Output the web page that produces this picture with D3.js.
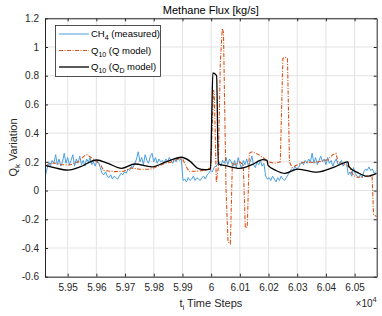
<!DOCTYPE html>
<html><head><meta charset="utf-8">
<script src="https://cdn.jsdelivr.net/npm/d3@7"></script>
<style>
html,body{margin:0;padding:0;background:#fff;}
svg{display:block;font-family:Arial,"Liberation Sans",Helvetica,sans-serif;}
</style></head>
<body><svg id="c" width="382" height="316"></svg>
<script>
// ---- data ----
const ch4Start = 59422, ch4Step = 6;
const ch4 = [0.10,0.15,0.20,0.17,
 0.21,0.19,0.25,0.18,0.22,0.17,0.20,0.26,0.19,0.23,0.18,0.21,0.25,0.17,0.22,0.19,0.24,0.18,0.21,0.17,0.22,0.20,0.23,0.18,0.20,0.17,0.21,0.19,0.16,
 0.12,0.11,0.13,0.10,0.09,0.11,0.08,0.10,0.09,0.08,0.10,0.12,0.11,0.13,
 0.12,0.15,0.14,0.17,0.16,0.19,
 0.22,0.27,0.20,0.23,0.18,0.25,0.21,0.19,0.24,0.26,0.20,0.23,0.19,0.22,0.20,
 0.21,0.19,0.22,0.20,0.23,0.21,0.19,0.22,0.20,0.23,0.21,0.22,
 0.07,0.08,0.06,0.09,0.07,0.08,0.10,0.07,0.09,0.08,0.07,0.09,0.10,0.08,0.11,
 0.12,0.14,0.13,0.16,0.17,
 0.18,0.20,0.17,0.21,0.19,0.23,0.18,0.22,0.20,
 0.17,0.21,0.16,0.23,0.19,0.15,0.21,0.18,0.22,0.17,0.20,0.24,0.18,0.16,0.20,0.18,0.21,0.17,0.19,
 0.10,0.08,0.09,0.07,0.10,0.08,0.06,0.09,0.07,0.10,0.08,0.07,0.09,0.11,
 0.13,0.15,0.14,0.17,0.15,0.16,0.18,
 0.20,0.18,0.21,0.19,0.22,0.20,0.26,
 0.19,0.23,0.18,0.21,0.24,0.20,0.22,0.18,0.23,0.19,0.21,0.17,0.20,0.22,0.18,0.19,0.21,0.17,0.20,0.19,
 0.11,0.13,0.10,0.16,0.12,0.10,0.09,0.11,0.09,
 0.13,0.15,0.14,0.165,0.14,0.15,
 0.12,0.13];

const qT = [59421,59441,59459,59480,59508,59536,59557,59568,59592,59615,59625,59661,59696,59721,59752,59787,59815,59839,59863,59891,59902,59912,59923,59950,59984,59999,
 60008,60011,60018,60025,60032,60039,60043,60052,60059,60067,60074,60086,60100,60112,60119,60126,60133,60142,60156,60170,60184,60198,60222,60241,
 60250,60257,60266,60273,60282,60295,60327,60362,60407,60424,60435,60442,60466,60480,60491,60505,60526,60543,60561,60566,60577];
const qV = [0.17,0.19,0.19,0.18,0.178,0.2,0.24,0.25,0.215,0.18,0.14,0.132,0.135,0.158,0.148,0.148,0.17,0.19,0.2,0.225,0.215,0.17,0.135,0.135,0.143,0.16,
 0.7,0.68,0.06,0.16,0.9,1.13,1.1,0.0,-0.36,-0.37,0.19,0.18,0.2,0.18,-0.26,-0.25,0.26,0.27,0.26,0.245,0.225,0.2,0.19,0.2,
 0.92,0.93,0.92,0.2,0.16,0.175,0.2,0.195,0.215,0.25,0.26,0.2,0.18,0.17,0.12,0.093,0.093,0.1,0.1,-0.17,-0.18];

const qdT = [59421,59456,59501,59543,59601,59640,59688,59734,59793,59843,59897,59926,59954,59978,59998,60002,60006,60019,60025,60048,60100,60142,60180,60195,60198,60226,60257,60302,60368,60431,60477,60480,60511,60543,60577];
const qdV = [0.175,0.158,0.143,0.165,0.213,0.19,0.155,0.185,0.165,0.2,0.232,0.205,0.155,0.145,0.15,0.5,0.82,0.8,0.185,0.175,0.155,0.18,0.215,0.21,0.178,0.14,0.12,0.15,0.128,0.165,0.2,0.167,0.125,0.1,0.12];

const xTicks = [59500,59600,59700,59800,59900,60000,60100,60200,60300,60400,60500];
const xTickLabels = ["5.95","5.96","5.97","5.98","5.99","6","6.01","6.02","6.03","6.04","6.05"];
const yTicks = [-0.6,-0.4,-0.2,0,0.2,0.4,0.6,0.8,1,1.2];
const yTickLabels = ["-0.6","-0.4","-0.2","0","0.2","0.4","0.6","0.8","1","1.2"];

// ---- layout ----
const L = 45, R = 376.7, T = 18.3, B = 276.7;
const svg = d3.select("#c");
const x = d3.scaleLinear().domain([59421, 60577]).range([L, R]);
const y = d3.scaleLinear().domain([-0.6, 1.2]).range([B, T]);
const axisCol = "#262626";

// grid
const g = svg.append("g");
g.selectAll("line.gx").data(xTicks).join("line")
  .attr("x1", d => x(d)).attr("x2", d => x(d)).attr("y1", T).attr("y2", B)
  .attr("stroke", "#e3e3e3").attr("stroke-width", 1);
g.selectAll("line.gy").data(yTicks).join("line")
  .attr("y1", d => y(d)).attr("y2", d => y(d)).attr("x1", L).attr("x2", R)
  .attr("stroke", "#e3e3e3").attr("stroke-width", 1);

// clip
svg.append("clipPath").attr("id", "clip").append("rect")
  .attr("x", L).attr("y", T).attr("width", R - L).attr("height", B - T);

const line = d3.line().x(d => x(d[0])).y(d => y(d[1]));
const smooth = d3.line().x(d => x(d[0])).y(d => y(d[1])).curve(d3.curveMonotoneX);
const ch4Data = ch4.map((v, i) => [ch4Start + i * ch4Step, v]);
const qData = qT.map((t, i) => [t, qV[i]]);
const qdData = qdT.map((t, i) => [t, qdV[i]]);

const pg = svg.append("g").attr("clip-path", "url(#clip)");
pg.append("path").datum(ch4Data).attr("d", line).attr("fill", "none")
  .attr("stroke", "#4a9fe0").attr("stroke-width", 1);
pg.append("path").datum(qData).attr("d", line).attr("fill", "none")
  .attr("stroke", "#d95319").attr("stroke-width", 1.1).attr("stroke-dasharray", "4,1.5,1,1.5");
pg.append("path").datum(qdData).attr("d", smooth).attr("fill", "none")
  .attr("stroke", "#000").attr("stroke-width", 1.3);

// axes
const xAxB = d3.axisBottom(x).tickValues(xTicks).tickFormat((d, i) => xTickLabels[i]).tickSizeInner(-3).tickSizeOuter(0).tickPadding(7);
const xAxT = d3.axisTop(x).tickValues(xTicks).tickFormat("").tickSizeInner(-3).tickSizeOuter(0);
const yAxL = d3.axisLeft(y).tickValues(yTicks).tickFormat((d, i) => yTickLabels[i]).tickSizeInner(-3).tickSizeOuter(0).tickPadding(6);
const yAxR = d3.axisRight(y).tickValues(yTicks).tickFormat("").tickSizeInner(-3).tickSizeOuter(0);
function style(sel) {
  sel.select(".domain").attr("stroke", axisCol);
  sel.selectAll(".tick line").attr("stroke", axisCol);
  sel.selectAll(".tick text").attr("fill", axisCol).attr("font-size", 10).attr("font-family", "Arial, 'Liberation Sans', sans-serif");
}
svg.append("g").attr("transform", `translate(0,${B})`).call(xAxB).call(style);
svg.append("g").attr("transform", `translate(0,${T})`).call(xAxT).call(style);
svg.append("g").attr("transform", `translate(${L},0)`).call(yAxL).call(style);
svg.append("g").attr("transform", `translate(${R},0)`).call(yAxR).call(style);

// title
svg.append("text").attr("x", (L + R) / 2).attr("y", 14).attr("text-anchor", "middle")
  .attr("font-size", 11).attr("fill", "#000").text("Methane Flux [kg/s]");

// x label
const xl = svg.append("text").attr("x", (L + R) / 2).attr("y", 307).attr("text-anchor", "middle")
  .attr("font-size", 11).attr("fill", axisCol);
xl.append("tspan").text("t");
xl.append("tspan").attr("font-size", 8).attr("dy", 3).text("i");
xl.append("tspan").attr("dy", -3).text(" Time Steps");

// exponent
const ex = svg.append("text").attr("x", R).attr("y", 307).attr("text-anchor", "end")
  .attr("font-size", 10).attr("fill", axisCol);
ex.append("tspan").text("\u00d710");
ex.append("tspan").attr("font-size", 7.5).attr("dy", -5).text("4");

// y label
const yl = svg.append("text").attr("transform", `translate(17,${(T + B) / 2}) rotate(-90)`)
  .attr("text-anchor", "middle").attr("font-size", 11).attr("fill", axisCol);
yl.append("tspan").text("Q");
yl.append("tspan").attr("font-size", 8).attr("dy", 3).text("k");
yl.append("tspan").attr("dy", -3).text(" Variation");

// legend
const lg = svg.append("g");
lg.append("rect").attr("x", 55.5).attr("y", 25.5).attr("width", 105).attr("height", 51)
  .attr("fill", "#fff").attr("stroke", axisCol).attr("stroke-width", 0.8);
const legItems = [
  {col: "#4a9fe0", dash: null, w: 1, parts: [["CH", 0], ["4", 1], [" (measured)", 0]]},
  {col: "#d95319", dash: "4,1.5,1,1.5", w: 1.1, parts: [["Q", 0], ["10", 1], [" (Q model)", 0]]},
  {col: "#000", dash: null, w: 1.3, parts: [["Q", 0], ["10", 1], [" (Q", 0], ["D", 1], [" model)", 0]]}
];
legItems.forEach((it, i) => {
  const yy = 34 + i * 16.5;
  lg.append("line").attr("x1", 59).attr("x2", 89).attr("y1", yy).attr("y2", yy)
    .attr("stroke", it.col).attr("stroke-width", it.w).attr("stroke-dasharray", it.dash);
  const t = lg.append("text").attr("x", 91).attr("y", yy + 3).attr("font-size", 9.5).attr("fill", "#000");
  let sub = 0;
  it.parts.forEach(p => {
    const ts = t.append("tspan").text(p[0]);
    if (p[1] && !sub) { ts.attr("font-size", 7).attr("dy", 3); sub = 1; }
    else if (!p[1] && sub) { ts.attr("dy", -3); sub = 0; }
  });
});
</script></body></html>
